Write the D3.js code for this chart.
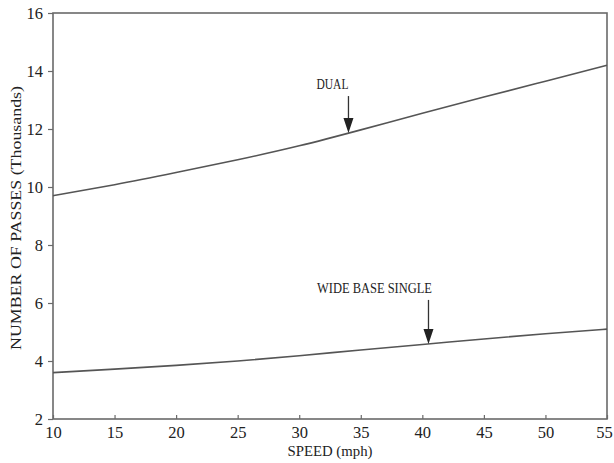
<!DOCTYPE html>
<html><head><meta charset="utf-8">
<script src="https://cdn.jsdelivr.net/npm/d3@7"></script>
<style>body{margin:0;background:#fff}</style>
</head><body>
<svg id="c" width="614" height="463"></svg>
<script>
const speeds = [10, 15, 20, 25, 30, 35, 40, 45, 50, 55];
const dual = [9.7, 10.08, 10.5, 10.94, 11.42, 11.97, 12.54, 13.1, 13.65, 14.2];
const wideBaseSingle = [3.6, 3.72, 3.85, 4.0, 4.18, 4.38, 4.57, 4.76, 4.94, 5.1];
const xTicks = [10, 15, 20, 25, 30, 35, 40, 45, 50, 55];
const yTicks = [2, 4, 6, 8, 10, 12, 14, 16];
const labels = ["DUAL", "WIDE BASE SINGLE"];
const arrowX = [34, 40.5];

const svg = d3.select("#c");
const m = {l:53, r:7, t:13, b:44};
const W = 614, H = 463;
const x = d3.scaleLinear().domain([10,55]).range([m.l, W-m.r]);
const y = d3.scaleLinear().domain([2,16]).range([H-m.b, m.t]);
const col = "#6a6a6a";
const font = "'Liberation Serif', 'DejaVu Serif', serif";

svg.append("rect").attr("x", x(10)).attr("y", y(16)).attr("width", x(55)-x(10)).attr("height", y(2)-y(16))
  .attr("fill","none").attr("stroke", col).attr("stroke-width", 1.6);

const gx = svg.append("g").attr("transform", `translate(0,${y(2)})`)
  .call(d3.axisBottom(x).tickValues(xTicks).tickSize(-4).tickPadding(7).tickFormat(d3.format("d")));
gx.select(".domain").remove();
gx.selectAll("line").attr("stroke", col).attr("stroke-width",1.2);
gx.selectAll("text").attr("font-family", font).attr("font-size", 16.5).attr("fill","#222")
  .attr("dx", d => d === 55 ? -3 : 0);

const gy = svg.append("g").attr("transform", `translate(${x(10)},0)`)
  .call(d3.axisLeft(y).tickValues(yTicks).tickSize(5).tickPadding(5).tickFormat(d3.format("d")));
gy.select(".domain").remove();
gy.selectAll("line").attr("stroke", col).attr("stroke-width",1.2);
gy.selectAll("text").attr("font-family", font).attr("font-size", 16.5).attr("fill","#222");

svg.append("text").attr("x", 330).attr("y", 456).attr("text-anchor","middle")
  .attr("font-family", font).attr("font-size", 14.5).attr("fill","#222")
  .attr("textLength", 85).attr("lengthAdjust","spacingAndGlyphs").text("SPEED (mph)");
svg.append("text").attr("transform", `translate(21,218) rotate(-90)`).attr("text-anchor","middle")
  .attr("font-family", font).attr("font-size", 14.5).attr("fill","#222")
  .attr("textLength", 264).attr("lengthAdjust","spacingAndGlyphs").text("NUMBER OF PASSES (Thousands)");

const line = d3.line().x((d,i)=>x(speeds[i])).y(d=>y(d)).curve(d3.curveNatural);
[dual, wideBaseSingle].forEach(s=>{
  svg.append("path").attr("d", line(s)).attr("fill","none").attr("stroke","#555").attr("stroke-width",1.6);
});

const series = [dual, wideBaseSingle];
const lineLen = [37, 44];
const labelOff = [-16, -54];
const labelW = [32, 115];
series.forEach((s,k)=>{
  const ax = arrowX[k];
  const val = d3.scaleLinear().domain(speeds).range(s)(ax);
  const tx = x(ax), ty = y(val);
  const top = ty - lineLen[k];
  svg.append("line").attr("x1", tx).attr("x2", tx).attr("y1", top).attr("y2", ty-12)
    .attr("stroke","#333").attr("stroke-width",1.3);
  svg.append("path").attr("d", `M${tx-5},${ty-15} L${tx+5},${ty-15} L${tx},${ty} Z`).attr("fill","#222");
  svg.append("text").attr("x", tx + labelOff[k]).attr("y", top - 7).attr("text-anchor","middle")
    .attr("font-family", font).attr("font-size", 14.5).attr("fill","#222")
    .attr("textLength", labelW[k]).attr("lengthAdjust","spacingAndGlyphs").text(labels[k]);
});
</script>
</body></html>
